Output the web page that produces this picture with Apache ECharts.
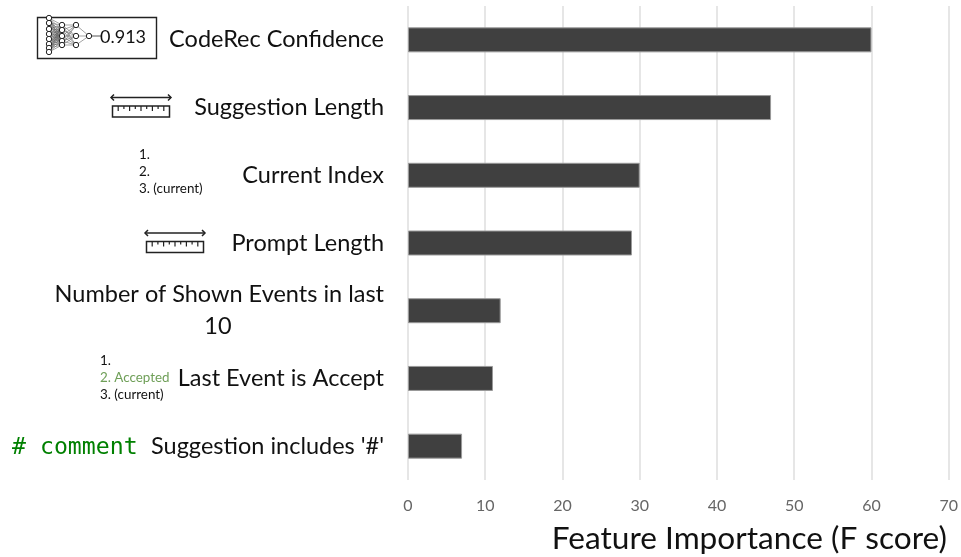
<!DOCTYPE html>
<html>
<head>
<meta charset="utf-8">
<style>
html, body { margin: 0; padding: 0; background: #fff; }
#chart { width: 961px; height: 557px; }
</style>
<script src="https://cdn.jsdelivr.net/npm/echarts@6/dist/echarts.min.js"></script>
</head>
<body>
<div id="chart"></div>
<script>
var categories = [
	'CodeRec Confidence',
	'Suggestion Length',
	'Current Index',
	'Prompt Length',
	'Number of Shown Events in last\n{center|10}',
	'Last Event is Accept',
	"Suggestion includes '#'"
];
var scores = [60, 47, 30, 29, 12, 11, 7];
var xTicks = [0, 70, 10];
var axisTitle = 'Feature Importance (F score)';
var listCurrent = ['1.', '2.', '3. (current)'];
var listAccept = ['1.', '2. Accepted', '3. (current)'];

var FONT = 'Lato';
var INK = '#111';

// little pictures next to the labels
function ruler(x, y) {
	var items = [];
	var line = {stroke: '#222', lineWidth: 1.5, fill: null};
	items.push({type: 'line', shape: {x1: x, y1: y, x2: x + 60, y2: y}, style: line});
	items.push({type: 'polyline', shape: {points: [[x + 3, y - 3], [x, y], [x + 3, y + 3]]}, style: line});
	items.push({type: 'polyline', shape: {points: [[x + 57, y - 3], [x + 60, y], [x + 57, y + 3]]}, style: line});
	items.push({type: 'rect', shape: {x: x + 1.5, y: y + 8.5, width: 57, height: 11}, style: line});
	for (var i = 1; i < 10; i++) {
		var len = i % 2 ? 5 : 3;
		items.push({type: 'line', shape: {x1: x + 1.5 + i * 5.7, y1: y + 8.5, x2: x + 1.5 + i * 5.7, y2: y + 8.5 + len}, style: {stroke: '#222', lineWidth: 1.2}});
	}
	return items;
}

function network() {
	var layers = [
		{x: 49, ys: [18, 23, 29, 34, 39, 44, 48, 52]},
		{x: 62, ys: [25, 30, 36, 41, 45]},
		{x: 76, ys: [25, 36, 45]},
		{x: 89, ys: [36]}
	];
	var items = [];
	for (var l = 0; l < layers.length - 1; l++) {
		layers[l].ys.forEach(function(a) {
			layers[l + 1].ys.forEach(function(b) {
				items.push({type: 'line', shape: {x1: layers[l].x, y1: a, x2: layers[l + 1].x, y2: b}, style: {stroke: '#666', lineWidth: 0.6}});
			});
		});
	}
	items.push({type: 'line', shape: {x1: 89, y1: 36, x2: 101, y2: 36}, style: {stroke: '#555', lineWidth: 1}});
	layers.forEach(function(layer) {
		layer.ys.forEach(function(y) {
			items.push({type: 'circle', shape: {cx: layer.x, cy: y, r: 2.7}, style: {fill: '#fff', stroke: '#222', lineWidth: 1}});
		});
	});
	return items;
}

function smallList(x, y, lines) {
	return lines.map(function(t, i) {
		return {type: 'text', x: x, y: y + i * 17, style: {
			text: t, font: '13.4px ' + FONT, fill: t.indexOf('Accepted') >= 0 ? '#6f9f58' : INK,
			textAlign: 'left', textVerticalAlign: 'middle'
		}};
	});
}

var pictures = [
	{type: 'rect', shape: {x: 37.5, y: 17.5, width: 119, height: 41}, style: {fill: '#fff', stroke: '#222', lineWidth: 1.4}}
].concat(network(), [
	{type: 'text', x: 100, y: 37, style: {text: '0.913', font: '18px ' + FONT, fill: INK, textAlign: 'left', textVerticalAlign: 'middle'}},
	{type: 'text', x: 12, y: 448, style: {text: '# comment', font: '23.2px "DejaVu Sans Mono"', fill: '#008000', textAlign: 'left', textVerticalAlign: 'middle'}}
], ruler(111, 97.5), ruler(145, 233), smallList(139, 154.5, listCurrent), smallList(100, 361, listAccept));

var myChart = echarts.init(document.getElementById('chart'));
myChart.setOption({
	animation: false,
	title: {
		text: axisTitle,
		right: 9,
		top: 518,
		textStyle: {fontFamily: FONT, fontSize: 31.6, fontWeight: 'normal', color: INK}
	},
	grid: {left: 408, right: 11.5, top: 6, bottom: 77},
	xAxis: {
		type: 'value',
		min: xTicks[0],
		max: xTicks[1],
		interval: xTicks[2],
		axisLine: {show: false},
		axisTick: {show: false},
		axisLabel: {fontFamily: FONT, fontSize: 16, color: '#666', margin: 18},
		splitLine: {show: true, lineStyle: {color: '#dedede', width: 1.5}}
	},
	yAxis: {
		type: 'category',
		inverse: true,
		data: categories,
		axisLine: {show: false},
		axisTick: {show: false},
		axisLabel: {
			fontFamily: FONT, fontSize: 23.5, color: INK, margin: 24, align: 'right', lineHeight: 32,
			rich: {center: {fontFamily: FONT, fontSize: 23.5, color: INK, width: 332, align: 'center', lineHeight: 32}}
		}
	},
	series: [{
		type: 'bar',
		data: scores,
		barWidth: 25,
		itemStyle: {color: '#404040', borderColor: '#9a9a9a', borderWidth: 1}
	}],
	graphic: {elements: pictures}
});

window.onresize = function() {
	myChart.resize();
};
</script>
</body>
</html>
